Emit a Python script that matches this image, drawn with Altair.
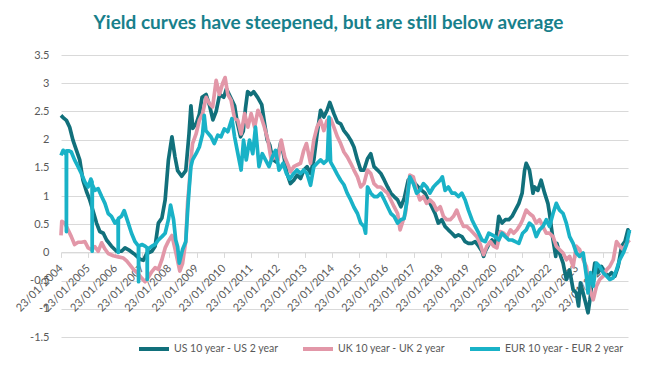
import altair as alt
import pandas as pd

SERIES = ["US 10 year - US 2 year", "UK 10 year - UK 2 year", "EUR 10 year - EUR 2 year"]
COLORS = ["#11707b", "#e297a8", "#19b2c7"]

us_years = [2004.00, 2004.10, 2004.20, 2004.32, 2004.44, 2004.57, 2004.69, 2004.81, 2004.94, 2005.06,
            2005.19, 2005.31, 2005.43, 2005.56, 2005.68, 2005.86, 2006.05, 2006.23, 2006.36, 2006.54,
            2006.73, 2006.91, 2007.04, 2007.16, 2007.35, 2007.47, 2007.59, 2007.72, 2007.84, 2007.96,
            2008.09, 2008.20, 2008.30, 2008.45, 2008.60, 2008.72, 2008.79, 2008.86, 2009.00, 2009.10,
            2009.20, 2009.35, 2009.48, 2009.60, 2009.72, 2009.85, 2010.00, 2010.10, 2010.25, 2010.40,
            2010.50, 2010.62, 2010.72, 2010.80, 2010.88, 2011.00, 2011.10, 2011.25, 2011.40, 2011.50,
            2011.60, 2011.70, 2011.80, 2011.95, 2012.10, 2012.20, 2012.33, 2012.46, 2012.58, 2012.70,
            2012.83, 2012.95, 2013.07, 2013.20, 2013.32, 2013.44, 2013.57, 2013.69, 2013.81, 2013.91,
            2014.06, 2014.19, 2014.31, 2014.43, 2014.56, 2014.68, 2014.80, 2014.93, 2015.05, 2015.17,
            2015.30, 2015.42, 2015.54, 2015.67, 2015.79, 2015.92, 2016.04, 2016.16, 2016.28, 2016.41,
            2016.53, 2016.65, 2016.80, 2016.93, 2017.05, 2017.17, 2017.30, 2017.42, 2017.54, 2017.67,
            2017.79, 2017.91, 2018.04, 2018.16, 2018.28, 2018.41, 2018.53, 2018.65, 2018.78, 2018.90,
            2019.02, 2019.15, 2019.27, 2019.40, 2019.52, 2019.58, 2019.64, 2019.77, 2019.89, 2020.01,
            2020.14, 2020.26, 2020.38, 2020.51, 2020.63, 2020.75, 2020.88, 2021.00, 2021.09, 2021.15,
            2021.27, 2021.33, 2021.40, 2021.46, 2021.58, 2021.70, 2021.83, 2021.95, 2022.01, 2022.14,
            2022.24, 2022.28, 2022.38, 2022.51, 2022.63, 2022.75, 2022.88, 2023.00, 2023.08, 2023.15,
            2023.25, 2023.37, 2023.43, 2023.50, 2023.56, 2023.68, 2023.80, 2023.93, 2024.05, 2024.17,
            2024.30, 2024.42, 2024.54, 2024.67, 2024.79, 2024.90, 2024.96]
us_spread = [2.43, 2.38, 2.34, 2.22, 1.99, 1.81, 1.64, 1.28, 1.08, 0.93,
             0.72, 0.52, 0.37, 0.34, 0.22, 0.11, 0.02, 0.02, 0.08, 0.03,
             -0.04, -0.12, -0.14, -0.02, 0.02, 0.11, 0.52, 0.61, 0.93, 1.64,
             2.05, 1.70, 1.45, 1.35, 1.45, 2.10, 2.60, 2.20, 2.30, 2.45,
             2.75, 2.80, 2.60, 2.35, 2.50, 2.80, 2.75, 2.90, 2.75, 2.60,
             2.30, 2.05, 2.15, 2.55, 2.85, 2.80, 2.85, 2.75, 2.62, 2.30,
             2.00, 1.90, 1.65, 1.60, 1.95, 1.75, 1.40, 1.22, 1.28, 1.37,
             1.31, 1.46, 1.52, 1.40, 1.64, 2.10, 2.52, 2.40, 2.52, 2.66,
             2.46, 2.31, 2.28, 2.16, 2.08, 1.99, 1.87, 1.64, 1.46, 1.46,
             1.66, 1.75, 1.52, 1.46, 1.40, 1.28, 1.16, 1.05, 0.99, 0.93,
             0.81, 0.95, 1.28, 1.34, 1.22, 1.16, 1.10, 1.05, 0.93, 0.81,
             0.69, 0.52, 0.58, 0.46, 0.40, 0.34, 0.28, 0.31, 0.28, 0.19,
             0.16, 0.16, 0.19, 0.11, 0.02, -0.07, 0.02, 0.14, 0.22, 0.11,
             0.64, 0.52, 0.58, 0.58, 0.64, 0.75, 0.87, 1.05, 1.45, 1.58,
             1.46, 1.28, 1.05, 1.16, 1.10, 1.28, 1.05, 0.87, 0.69, 0.22,
             -0.07, 0.16, -0.01, -0.19, -0.48, -0.31, -0.66, -0.72, -0.95, -0.54,
             -0.72, -0.95, -1.07, -0.84, -0.60, -0.19, -0.36, -0.25, -0.36, -0.42,
             -0.36, -0.42, -0.25, 0.11, 0.19, 0.40, 0.34]

uk_years = [2004.00, 2004.03, 2004.14, 2004.26, 2004.38, 2004.50, 2004.63, 2004.75, 2004.88, 2005.00,
            2005.12, 2005.25, 2005.37, 2005.50, 2005.62, 2005.74, 2005.93, 2006.11, 2006.30, 2006.42,
            2006.54, 2006.67, 2006.85, 2006.98, 2007.10, 2007.22, 2007.35, 2007.47, 2007.59, 2007.72,
            2007.84, 2007.96, 2008.09, 2008.21, 2008.30, 2008.38, 2008.48, 2008.60, 2008.67, 2008.73,
            2008.79, 2008.85, 2008.98, 2009.10, 2009.22, 2009.35, 2009.47, 2009.59, 2009.72, 2009.84,
            2009.96, 2010.05, 2010.15, 2010.27, 2010.40, 2010.52, 2010.64, 2010.77, 2010.89, 2011.01,
            2011.14, 2011.26, 2011.38, 2011.50, 2011.63, 2011.75, 2011.88, 2012.00, 2012.12, 2012.25,
            2012.37, 2012.46, 2012.58, 2012.70, 2012.83, 2012.95, 2013.05, 2013.20, 2013.32, 2013.44,
            2013.57, 2013.69, 2013.81, 2013.94, 2014.06, 2014.19, 2014.31, 2014.43, 2014.56, 2014.68,
            2014.80, 2014.93, 2015.05, 2015.17, 2015.30, 2015.42, 2015.54, 2015.67, 2015.79, 2015.92,
            2016.04, 2016.16, 2016.28, 2016.41, 2016.50, 2016.60, 2016.70, 2016.78, 2016.86, 2016.99,
            2017.11, 2017.23, 2017.36, 2017.48, 2017.60, 2017.73, 2017.85, 2017.98, 2018.10, 2018.22,
            2018.35, 2018.47, 2018.59, 2018.72, 2018.84, 2018.96, 2019.09, 2019.21, 2019.33, 2019.46,
            2019.58, 2019.70, 2019.83, 2019.95, 2020.07, 2020.20, 2020.32, 2020.44, 2020.57, 2020.69,
            2020.81, 2020.94, 2021.02, 2021.15, 2021.27, 2021.40, 2021.52, 2021.64, 2021.77, 2021.89,
            2022.01, 2022.14, 2022.26, 2022.38, 2022.51, 2022.63, 2022.75, 2022.88, 2023.00, 2023.12,
            2023.25, 2023.37, 2023.50, 2023.62, 2023.74, 2023.86, 2023.99, 2024.11, 2024.23, 2024.36,
            2024.48, 2024.60, 2024.73, 2024.85, 2024.96]
uk_spread = [0.30, 0.55, 0.52, 0.40, 0.28, 0.14, 0.18, 0.18, 0.19, 0.08,
             0.05, 0.10, 0.02, 0.17, 0.06, -0.02, -0.06, -0.08, -0.10, -0.15,
             -0.22, -0.30, -0.38, -0.46, -0.52, -0.44, -0.34, -0.27, -0.30, -0.13,
             0.08, 0.20, 0.30, 0.05, -0.15, -0.33, -0.20, 0.20, 0.90, 1.22,
             1.64, 1.93, 2.10, 2.34, 2.46, 2.75, 2.64, 2.58, 3.05, 2.80,
             3.00, 3.10, 2.80, 2.70, 2.37, 2.34, 2.10, 2.46, 2.22, 2.46,
             2.22, 2.52, 2.40, 2.22, 1.99, 1.64, 1.69, 1.64, 1.99, 1.69,
             1.55, 1.43, 1.52, 1.55, 1.58, 1.81, 1.93, 1.58, 1.99, 2.22,
             2.34, 2.16, 2.34, 2.37, 2.22, 2.05, 1.93, 1.78, 1.69, 1.58,
             1.46, 1.34, 1.16, 1.22, 1.46, 1.40, 1.22, 1.16, 1.16, 1.10,
             1.05, 0.93, 0.81, 0.69, 0.40, 0.55, 0.70, 1.05, 1.37, 1.34,
             1.10, 0.93, 0.99, 0.87, 0.93, 0.87, 0.75, 0.81, 0.64, 0.58,
             0.58, 0.64, 0.75, 0.58, 0.46, 0.46, 0.40, 0.34, 0.28, 0.14,
             -0.04, 0.11, 0.19, 0.11, 0.08, 0.37, 0.34, 0.28, 0.40, 0.34,
             0.40, 0.50, 0.58, 0.75, 0.69, 0.64, 0.52, 0.58, 0.46, 0.34,
             0.34, 0.28, 0.11, 0.05, -0.01, -0.13, -0.07, -0.25, 0.11, 0.05,
             -0.13, -0.25, -0.66, -0.84, -0.60, -0.48, -0.42, -0.31, -0.25, -0.13,
             0.19, 0.11, 0.05, 0.16, 0.22]

eur_years = [2004.00, 2004.08, 2004.16, 2004.195, 2004.20, 2004.205, 2004.30, 2004.38, 2004.50, 2004.63,
             2004.75, 2004.88, 2005.00, 2005.10, 2005.145, 2005.15, 2005.155, 2005.25, 2005.37, 2005.50,
             2005.62, 2005.74, 2005.86, 2005.99, 2006.105, 2006.11, 2006.115, 2006.23, 2006.33, 2006.48,
             2006.60, 2006.73, 2006.855, 2006.86, 2006.865, 2006.98, 2007.10, 2007.175, 2007.18, 2007.185,
             2007.35, 2007.47, 2007.59, 2007.72, 2007.84, 2007.96, 2008.04, 2008.15, 2008.23, 2008.30,
             2008.36, 2008.48, 2008.60, 2008.67, 2008.73, 2008.79, 2008.85, 2008.98, 2009.10, 2009.22,
             2009.28, 2009.34, 2009.53, 2009.65, 2009.78, 2009.90, 2010.02, 2010.15, 2010.30, 2010.40,
             2010.52, 2010.64, 2010.73, 2010.83, 2010.95, 2011.07, 2011.17, 2011.30, 2011.42, 2011.54,
             2011.67, 2011.79, 2011.91, 2012.04, 2012.19, 2012.31, 2012.43, 2012.58, 2012.70, 2012.83,
             2012.95, 2013.07, 2013.20, 2013.32, 2013.44, 2013.57, 2013.69, 2013.82, 2013.88, 2013.94,
             2014.06, 2014.19, 2014.31, 2014.43, 2014.55, 2014.68, 2014.80, 2014.93, 2015.05, 2015.17,
             2015.23, 2015.30, 2015.42, 2015.54, 2015.67, 2015.79, 2015.92, 2016.04, 2016.16, 2016.28,
             2016.41, 2016.53, 2016.65, 2016.75, 2016.86, 2016.99, 2017.11, 2017.23, 2017.36, 2017.48,
             2017.60, 2017.73, 2017.85, 2017.98, 2018.06, 2018.16, 2018.28, 2018.41, 2018.53, 2018.65,
             2018.78, 2018.90, 2019.02, 2019.15, 2019.27, 2019.40, 2019.52, 2019.64, 2019.77, 2019.89,
             2020.01, 2020.14, 2020.26, 2020.38, 2020.51, 2020.63, 2020.75, 2020.88, 2021.02, 2021.15,
             2021.27, 2021.40, 2021.52, 2021.64, 2021.77, 2021.89, 2022.01, 2022.14, 2022.26, 2022.38,
             2022.51, 2022.63, 2022.75, 2022.88, 2023.00, 2023.12, 2023.25, 2023.37, 2023.43, 2023.52,
             2023.62, 2023.74, 2023.86, 2023.99, 2024.11, 2024.23, 2024.36, 2024.48, 2024.60, 2024.73,
             2024.85, 2024.96]
eur_spread = [1.72, 1.81, 1.75, 1.78, 0.37, 1.80, 1.80, 1.78, 1.64, 1.52,
              1.40, 1.25, 1.16, 1.30, 1.25, 0.02, 1.20, 1.10, 1.13, 0.99,
              0.87, 0.69, 0.64, 0.52, 0.58, 0.00, 0.60, 0.64, 0.74, 0.52,
              0.34, 0.19, 0.11, -0.52, 0.11, 0.14, 0.11, 0.08, -0.48, 0.05,
              0.11, 0.14, 0.22, 0.28, 0.34, 0.58, 0.84, 0.58, 0.22, 0.10,
              -0.19, 0.05, 0.19, 0.75, 1.16, 1.52, 1.64, 1.75, 1.87, 2.10,
              2.43, 2.16, 2.05, 1.93, 2.08, 2.05, 2.19, 2.14, 2.37, 2.05,
              1.75, 1.46, 1.99, 1.64, 1.99, 1.75, 2.22, 1.52, 1.75, 1.64,
              1.52, 1.69, 1.81, 1.46, 1.58, 1.40, 1.30, 1.40, 1.46, 1.40,
              1.46, 1.40, 1.19, 1.52, 1.58, 1.64, 1.58, 1.64, 2.40, 1.60,
              1.50, 1.38, 1.28, 1.20, 1.05, 0.93, 0.80, 0.69, 0.52, 0.46,
              0.34, 1.16, 1.05, 0.99, 0.99, 1.05, 0.93, 0.81, 0.69, 0.64,
              0.52, 0.58, 0.60, 0.90, 1.34, 1.22, 1.05, 1.10, 1.22, 1.16,
              1.05, 1.16, 1.22, 1.28, 1.34, 1.10, 1.16, 1.05, 1.05, 0.99,
              1.05, 0.93, 0.75, 0.58, 0.46, 0.34, 0.22, 0.19, 0.34, 0.31,
              0.28, 0.22, 0.34, 0.28, 0.22, 0.22, 0.19, 0.16, 0.34, 0.40,
              0.52, 0.46, 0.28, 0.40, 0.46, 0.58, 0.46, 0.69, 0.87, 0.75,
              0.69, 0.52, 0.28, 0.16, -0.01, -0.07, -0.01, -0.42, -0.72, -0.36,
              -0.60, -0.19, -0.25, -0.36, -0.42, -0.48, -0.45, -0.31, -0.13, -0.01,
              0.14, 0.40]

tick_years = list(range(2004, 2025))
start = pd.Timestamp("2004-01-23")


def to_date(t):
    return (start + pd.to_timedelta((t - 2004) * 365.25, unit="D")).strftime("%Y-%m-%dT%H:%M:%S")


rows = []
for name, yrs, vals in zip(SERIES, [us_years, uk_years, eur_years], [us_spread, uk_spread, eur_spread]):
    for t, v in zip(yrs, vals):
        rows.append({"date": to_date(t), "value": v, "series": name})
df = pd.DataFrame(rows)

x_dom = [alt.DateTime(year=2004, month=1, date=23), alt.DateTime(year=2024, month=12, date=18)]
x_ticks = [alt.DateTime(year=y, month=1, date=23) for y in tick_years]

GREY = "#595959"
FONT = "Lato"

base = alt.Chart(df).encode(
    x=alt.X("date:T", scale=alt.Scale(domain=x_dom),
            axis=alt.Axis(values=x_ticks, format="%d/%m/%Y", labelAngle=315, labelAlign="right",
                          labelBaseline="middle", labelPadding=9, tickSize=5, tickColor="#d9d9d9",
                          domainColor="#d9d9d9", domainWidth=1, offset=-84.6, grid=False,
                          labelOverlap=False, labelFlush=False, labelBound=False, title=None,
                          labelFont=FONT, labelFontSize=11, labelColor=GREY)),
    y=alt.Y("value:Q", scale=alt.Scale(domain=[-1.5, 3.5], nice=False, zero=False),
            axis=alt.Axis(values=[-1.5, -1, -0.5, 0, 0.5, 1, 1.5, 2, 2.5, 3, 3.5], labelExpr="datum.value + ''",
                          domain=False, ticks=False, grid=True, gridColor="#d9d9d9", gridWidth=1,
                          labelPadding=12, title=None, labelFont=FONT, labelFontSize=11, labelColor=GREY)),
    color=alt.Color("series:N", scale=alt.Scale(domain=SERIES, range=COLORS),
                    legend=alt.Legend(title=None, orient="none", legendX=76, legendY=277, direction="horizontal",
                                      symbolType="stroke", symbolSize=900, symbolStrokeWidth=4,
                                      labelFont=FONT, labelFontSize=10.5, labelColor=GREY, labelOffset=3,
                                      columnPadding=16, labelLimit=300)),
)

layers = [base.transform_filter(alt.datum.series == s).mark_line(strokeWidth=3.7, strokeJoin="round")
          for s in SERIES]

chart = alt.layer(*layers).properties(
    width=567, height=282,
    padding={"left": 53, "top": 47, "right": 15, "bottom": 42},
    autosize=alt.AutoSizeParams(type="none"),
    title=alt.Title("Yield curves have steepened, but are still below average", font=FONT, fontSize=19,
                    fontWeight="bold", color="#18808b", anchor="middle", dx=-16, offset=16),
).configure_view(stroke=None)

chart.save("out.html", embed_options={"renderer": "svg", "actions": False})
